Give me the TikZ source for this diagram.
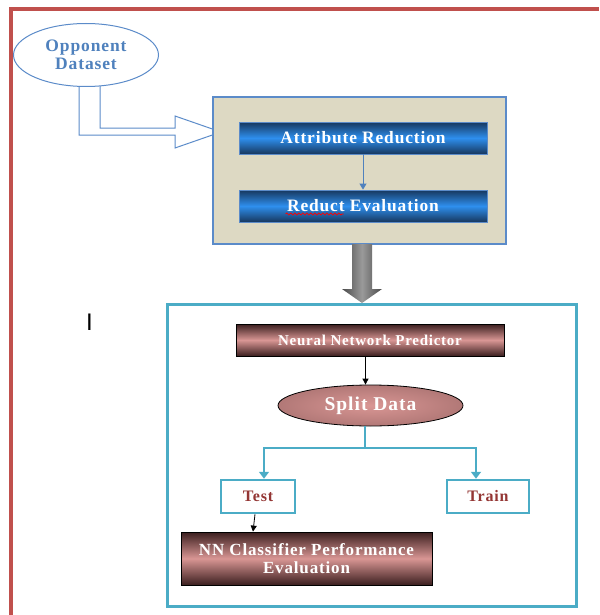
\documentclass[tikz,border=0pt]{standalone}
\usepackage{fontspec}
\setmainfont{Liberation Serif}
\newfontfamily\spfont[LetterSpace=5]{Liberation Serif}
\newfontfamily\ifont{Liberation Sans}
\usetikzlibrary{shapes.geometric,arrows.meta,decorations.pathmorphing,calc}
\definecolor{redb}{HTML}{C0504D}
\definecolor{ellblue}{HTML}{5B8BC9}
\definecolor{txtblue}{HTML}{4F81BD}
\definecolor{beige}{HTML}{DDD9C3}
\definecolor{navy}{HTML}{17375E}
\definecolor{brightblue}{HTML}{2E8FEE}
\definecolor{cyanc}{HTML}{4BACC6}
\definecolor{rosy}{HTML}{D99694}
\definecolor{darkrosy}{HTML}{3B1F1F}
\definecolor{darkred}{HTML}{943634}
\definecolor{g1}{HTML}{4A4A4A}
\definecolor{g2}{HTML}{9A9A9A}
\begin{document}
\begin{tikzpicture}[x=1pt,y=-1pt,
  lbl/.style={font=\spfont\bfseries, text=white, align=center, inner sep=0pt},
  bluebox/.style={draw=ellblue, line width=0.8pt, top color=navy, bottom color=navy, middle color=brightblue,
    minimum width=248pt, minimum height=32pt, inner sep=0pt, lbl},
  rosybox/.style={draw=black, line width=0.8pt, top color=darkrosy, bottom color=darkrosy, middle color=rosy,
    inner sep=0pt, lbl},
  cyanbox/.style={draw=cyanc, line width=2.5pt, fill=white, inner sep=0pt,
    font=\spfont\bfseries\fontsize{16}{18}\selectfont, text=darkred},
  cyanarrow/.style={draw=cyanc, line width=2.5pt},
  blackarrow/.style={draw=black, line width=0.8pt, -{Triangle[width=6pt,length=6pt]}}
]
\useasboundingbox (0,0) rectangle (599,615);
% outer red border
\draw[redb, line width=4pt] (11,615) -- (11,9.5) -- (599,9.5);

% hollow arrow from dataset
\coordinate (ha1) at (79,80);
\coordinate (ha2) at (100,80);
\coordinate (hat) at (221,132);
\draw[ellblue, line width=1pt, fill=white, line join=miter]
  (ha1) -- (79,135) -- (175,135) -- (175,148) -- (hat) -- (175,116) -- (175,128) -- (100,128) -- (ha2);

% dataset ellipse
\node[ellipse, draw=ellblue, line width=1pt, fill=white, minimum width=145pt, minimum height=63pt,
  inner sep=0pt, font=\spfont\bfseries\fontsize{17.5}{18}\selectfont, text=txtblue, align=center]
  (opp) at (86,55) {Opponent\\Dataset};

% first stage
\node[draw=ellblue, line width=1.2pt, fill=beige, minimum width=293pt, minimum height=147pt, inner sep=0pt]
  (stage1) at (359.5,170.5) {};
\node[bluebox, font=\spfont\bfseries\fontsize{17.4}{18}\selectfont] (attr) at (363,138) {Attribute Reduction};
\node[bluebox, font=\spfont\bfseries\fontsize{17.4}{18}\selectfont] (red) at (363,206) {Reduct Evaluation};
\draw[txtblue, line width=1pt, -{Triangle[width=7pt,length=6pt]}] (attr) -- (red);
\draw[red, line width=0.8pt, decorate, decoration={snake, amplitude=1pt, segment length=4pt}]
  ($(red.west)+(47,8)$) -- ($(red.west)+(105,8)$);

% grey block arrow
\coordinate (ga) at (362,244);
\shade[left color=g1, right color=g1, middle color=g2]
  ($(ga)+(-10,0)$) -- ($(ga)+(10,0)$) -- ($(ga)+(10,45)$) -- ($(ga)+(20,45)$) -- ($(ga)+(0,59)$)
  -- ($(ga)+(-20,45)$) -- ($(ga)+(-10,45)$) -- cycle;

% second stage
\node[draw=cyanc, line width=3pt, minimum width=409pt, minimum height=302pt, inner sep=0pt]
  (stage2) at (371.5,455) {};
\node[rosybox, minimum width=268pt, minimum height=32pt, font=\spfont\bfseries\fontsize{15}{16}\selectfont]
  (nnp) at (370,340) {Neural Network Predictor};
\node[ellipse, draw=black, line width=0.8pt, inner color=rosy, outer color=rosy!75!darkrosy,
  minimum width=185pt, minimum height=41pt, inner sep=0pt, lbl, font=\spfont\bfseries\fontsize{19.5}{20}\selectfont]
  (split) at (370.5,405.5) {Split Data};
\draw[blackarrow] (nnp.south -| split.south) ++(-5,0) coordinate (na) -- (na |- split.north);

\node[cyanbox, minimum width=74pt, minimum height=33pt] (test) at (258,496.5) {Test};
\node[cyanbox, minimum width=82pt, minimum height=33pt] (train) at (488,496.5) {Train};

\coordinate (j) at (365,448);
\coordinate (jl) at (264,448);
\coordinate (jr) at (476,448);
\draw[cyanarrow] (split.south -| j) -- (j);
\draw[cyanarrow, line cap=rect] (jl) -- (jr);
\draw[cyanarrow, -{Triangle[width=10pt,length=7pt]}] (jl) -- (jl |- test.north);
\draw[cyanarrow, -{Triangle[width=10pt,length=7pt]}] (jr) -- (jr |- train.north);

\node[rosybox, minimum width=251pt, minimum height=53pt, font=\spfont\bfseries\fontsize{17}{18}\selectfont]
  (nnc) at (306.5,558.5) {NN Classifier Performance\\Evaluation};
\draw[blackarrow] ($(test.south)+(-3,0)$) -- ($(nnc.north)+(-53.5,0)$);

% stray cursor glyph
\node[font=\ifont\fontsize{24}{24}\selectfont, inner sep=0pt] (cur) at (89.5,322) {I};
\end{tikzpicture}
\end{document}
